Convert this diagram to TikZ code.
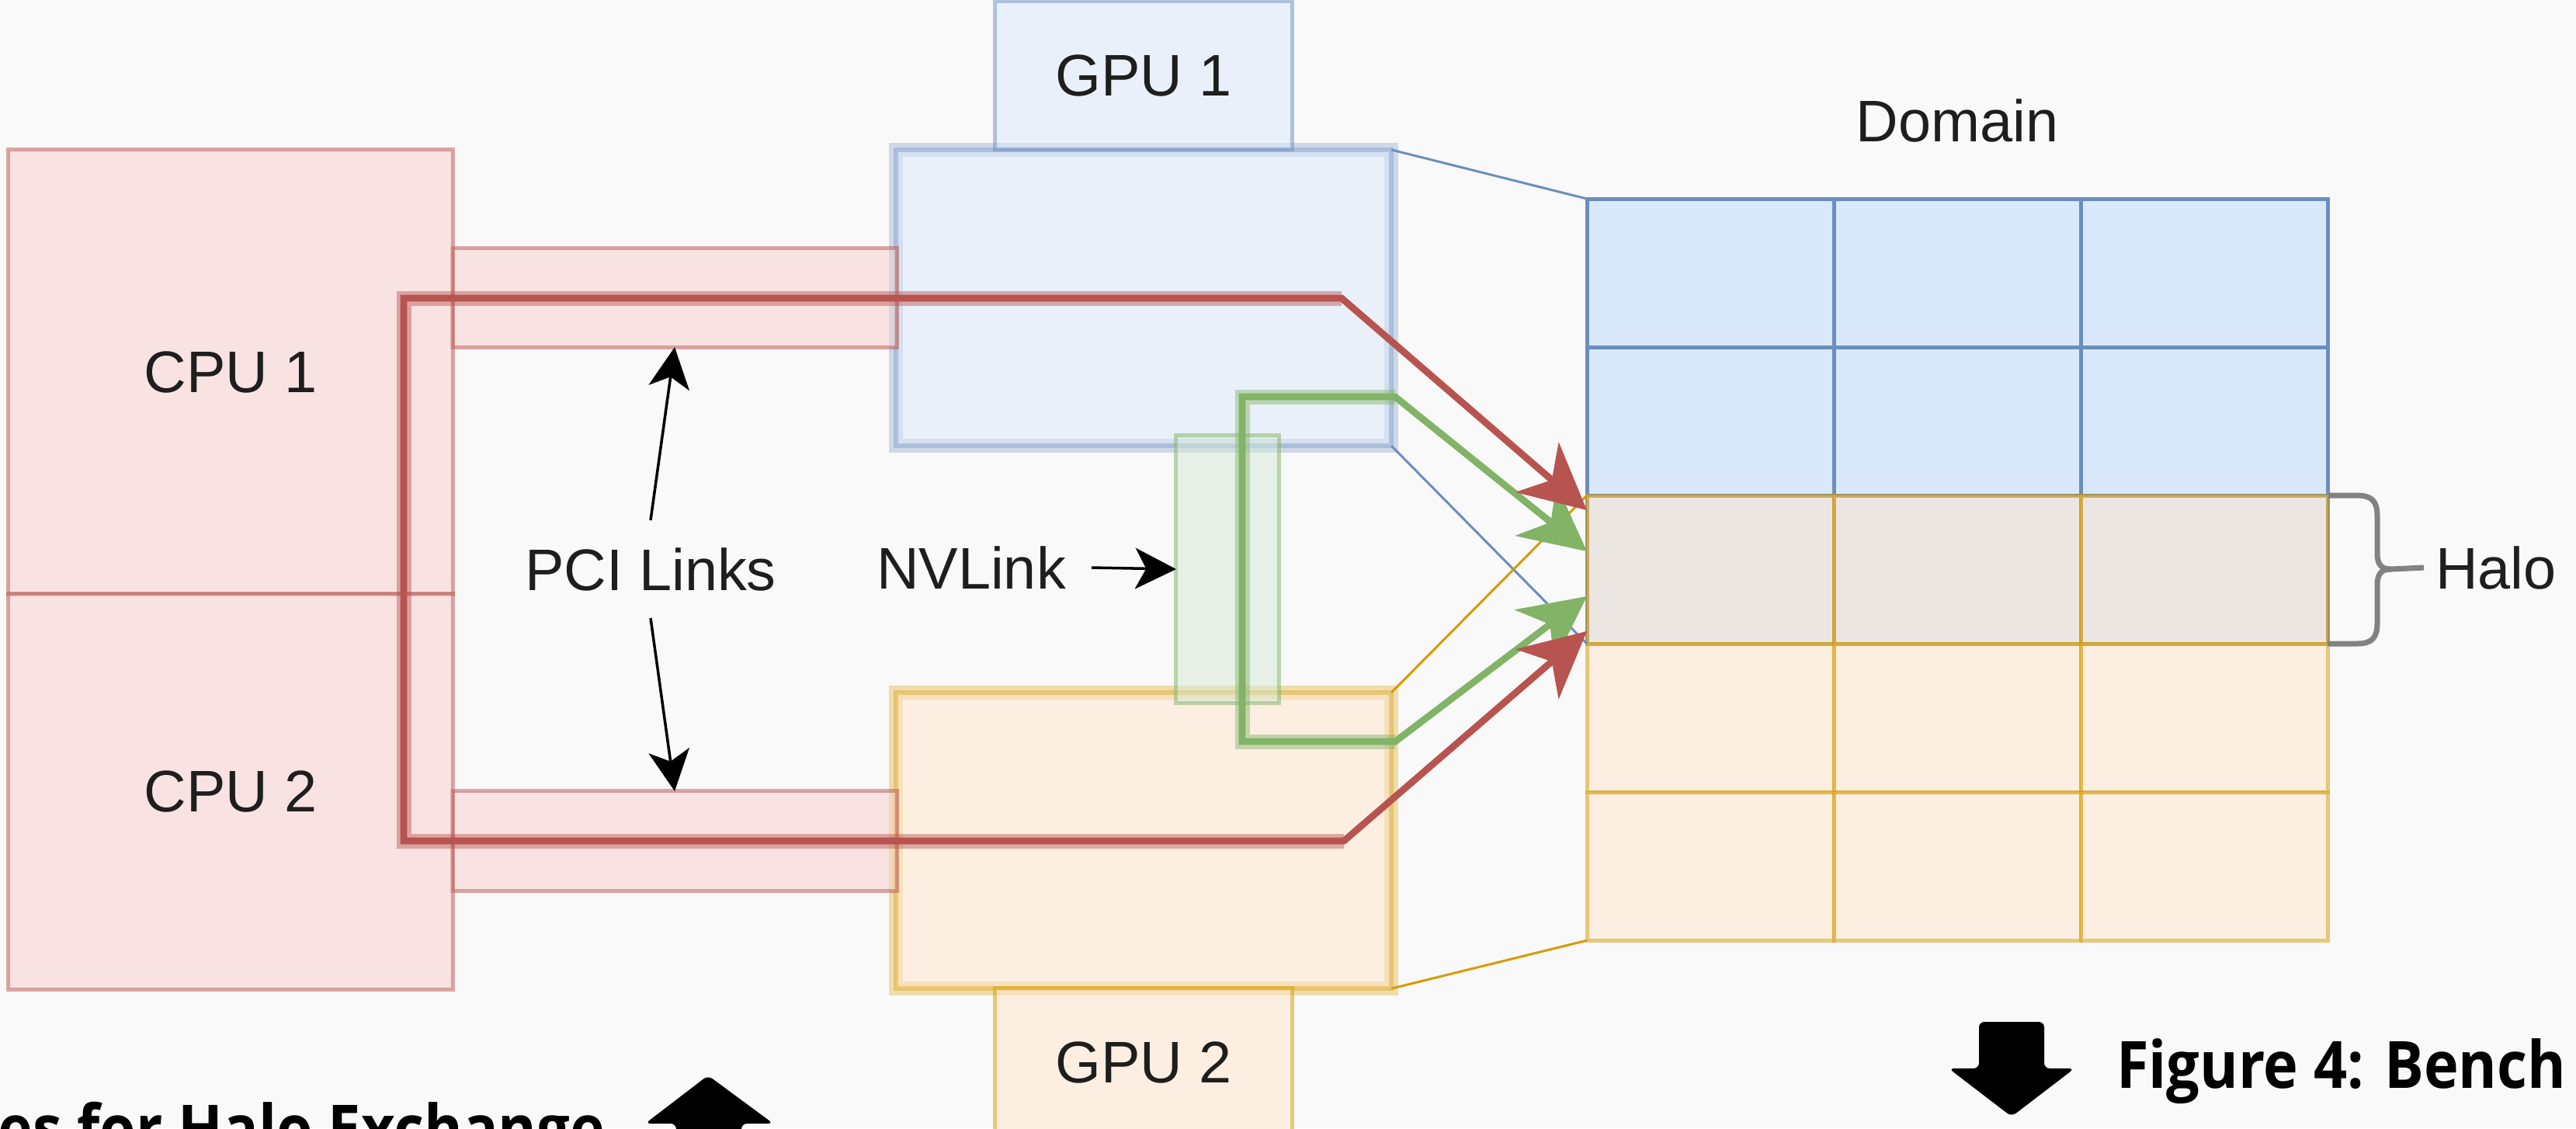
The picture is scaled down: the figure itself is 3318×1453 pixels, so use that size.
\documentclass[tikz,border=0pt]{standalone}
\usepackage{fontspec}
\setmainfont{Liberation Sans}
\newfontfamily\capfont{Open Sans}[FakeStretch=0.9]
\usetikzlibrary{arrows.meta,calc}
\definecolor{bg}{HTML}{F9F9F9}
\definecolor{redS}{HTML}{B85450}
\definecolor{redF}{HTML}{F8CECC}
\definecolor{bluS}{HTML}{6C8EBF}
\definecolor{bluF}{HTML}{DAE8FC}
\definecolor{orS}{HTML}{D79B00}
\definecolor{orF}{HTML}{FFE6CC}
\definecolor{grS}{HTML}{82B366}
\definecolor{grF}{HTML}{D5E8D4}
\definecolor{txt}{HTML}{1E1E1E}
\definecolor{brc}{HTML}{828282}
\begin{document}
\begin{tikzpicture}[x=0.01cm,y=-0.01cm,
  box/.style={rectangle, inner sep=0pt, outer sep=0pt, line width=1.42pt,
    text=txt, text opacity=1, font=\fontsize{21.5}{24}\selectfont},
  cpubox/.style={box, fill=redF, fill opacity=0.5, draw=redS, draw opacity=0.5},
  gpulbl1/.style={box, fill=bluF, fill opacity=0.5, draw=bluS, draw opacity=0.5},
  gpulbl2/.style={box, fill=orF, fill opacity=0.5, draw=orS, draw opacity=0.5},
  gpubig1/.style={box, fill=bluF, fill opacity=0.5, draw=bluS, draw opacity=0.37, line width=1.7pt,
    preaction={draw=bluS, draw opacity=0.3, line width=5.1pt}},
  gpubig2/.style={box, fill=orF, fill opacity=0.5, draw=orS, draw opacity=0.37, line width=1.7pt,
    preaction={draw=orS, draw opacity=0.3, line width=5.1pt}},
  nvbox/.style={box, fill=grF, fill opacity=0.5, draw=grS, draw opacity=0.5},
  bcell/.style={box, fill=bluF, draw=bluS, minimum width=3.18cm, minimum height=1.91cm, anchor=north west},
  ocell/.style={box, fill=orF, fill opacity=0.5, draw=orS, draw opacity=0.5, minimum width=3.18cm, minimum height=1.91cm, anchor=north west},
  lbl/.style={inner sep=0pt, outer sep=0pt, text=txt, font=\fontsize{21.5}{24}\selectfont},
  thinblue/.style={draw=bluS, line width=0.85pt},
  thinor/.style={draw=orS, line width=0.85pt},
  blk/.style={draw=black, line width=1pt, -{Stealth[length=15pt, width=15pt, inset=4pt]}},
  flowhead/.style={{Stealth[length=24pt, width=24pt, inset=7pt]}-{Stealth[length=24pt, width=24pt, inset=7pt]}},
  redflow/.style={draw=redS, line width=2.5pt, line join=miter, flowhead},
  redhalo/.style={draw=redS, draw opacity=0.45, line width=5.4pt, line join=miter},
  greenflow/.style={draw=grS, line width=2.5pt, line join=miter, flowhead},
  greenhalo/.style={draw=grS, draw opacity=0.45, line width=5.4pt, line join=miter},
  bracestyle/.style={draw=brc, line width=2pt},
  captext/.style={inner sep=0pt, outer sep=0pt, text=black, font=\capfont\bfseries\fontsize{23.9}{28}\selectfont},
]
\useasboundingbox (0,0) rectangle (3318,1453);
\clip (0,0) rectangle (3318,1453);
\fill[bg] (0,0) rectangle (3318,1453);

% GPU boxes
\node[gpubig1, minimum width=6.38cm, minimum height=3.81cm] (gpu1) at (1473,383.5) {};
\node[gpubig2, minimum width=6.38cm, minimum height=3.81cm] (gpu2) at (1473,1082.5) {};
\node[gpulbl1, minimum width=3.82cm, minimum height=1.90cm] (gpu1l) at (1473,97) {GPU 1};
\node[gpulbl2, minimum width=3.82cm, minimum height=1.90cm] (gpu2l) at (1473,1368) {GPU 2};

% PCI bars
\node[cpubox, minimum width=5.72cm, minimum height=1.27cm] (pci1) at (869,383.5) {};
\node[cpubox, minimum width=5.72cm, minimum height=1.28cm] (pci2) at (869,1083) {};

% CPU boxes
\node[cpubox, minimum width=5.72cm, minimum height=5.72cm] (cpu1) at (297,479) {CPU 1};
\node[cpubox, minimum width=5.72cm, minimum height=5.09cm] (cpu2) at (297,1019.5) {CPU 2};

% NVLink
\node[nvbox, minimum width=1.32cm, minimum height=3.44cm] (nvl) at (1581,733) {};

% Domain grid
\foreach \r in {0,1,2}{
  \foreach \c in {0,1,2}{
    \node[bcell] (b\r\c) at ({2044+318*\c},{256+191*\r}) {};
  }
}
\foreach \r in {2,3,4}{
  \foreach \c in {0,1,2}{
    \node[ocell] (o\r\c) at ({2044+318*\c},{256+191*\r}) {};
  }
}

% zoom lines
\draw[thinblue] (gpu1.north east) -- (b00.north west);
\draw[thinblue] (gpu1.south east) -- (b20.south west);
\draw[thinor] (gpu2.north east) -- (o20.north west);
\draw[thinor] (gpu2.south east) -- (o40.south west);

% labels
\node[lbl] (dom) at (2521,155) {Domain};
\node[lbl, anchor=west, inner xsep=0.15cm] (halo) at (3122,731) {Halo};
\node[lbl, minimum height=1.26cm] (pcit) at (838,733) {PCI Links};
\node[lbl, minimum width=3.1cm] (nvt) at (1251,731) {NVLink};

% brace
\draw[bracestyle] (o22.north east) -- (3035,638) .. controls (3055,638) and (3062,645) .. (3062,665)
  -- (3062,712) .. controls (3062,726) and (3066,733) .. (3080,733) -- (halo.west);
\draw[bracestyle] (3080,733) .. controls (3066,733) and (3062,740) .. (3062,754)
  -- (3062,802) .. controls (3062,822) and (3055,829) .. (3035,829) -- (o22.south east);

% black arrows
\draw[blk] (pcit.north) -- (pci1.south);
\draw[blk] (pcit.south) -- (pci2.north);
\draw[blk] (nvt.east) -- (nvl.west);

% flow coordinates
\coordinate (rt) at ($(o20.north west)!0.10!(o20.south west)$);
\coordinate (rb) at ($(o20.north west)!0.915!(o20.south west)$);
\coordinate (gt) at ($(o20.north west)!0.377!(o20.south west)$);
\coordinate (gb) at ($(o20.north west)!0.68!(o20.south west)$);
\coordinate (rc1) at (1728,384);
\coordinate (rc2) at (520,384);
\coordinate (rc3) at (520,1083);
\coordinate (rc4) at (1731,1083);
\coordinate (gc1) at (1797,511);
\coordinate (gc2) at (1600,511);
\coordinate (gc3) at (1600,955);
\coordinate (gc4) at (1797,955);

\draw[greenhalo] (gc1) -- (gc2) -- (gc3) -- (gc4);
\draw[greenflow] (gt) -- (gc1) -- (gc2) -- (gc3) -- (gc4) -- (gb);
\draw[redhalo] (rc1) -- (rc2) -- (rc3) -- (rc4);
\draw[redflow] (rt) -- (rc1) -- (rc2) -- (rc3) -- (rc4) -- (rb);

% captions and block arrows
\node[captext, anchor=base east] (capL) at (779,1483) {es for Halo Exchange};
\node[captext, anchor=base west] (capR) at (2726,1401) {Figure 4: Bench};
\fill[black, rounded corners=2pt] (912,1385) -- (996,1447) -- (955,1447) -- (955,1475) -- (871,1475) -- (871,1447) -- (831,1447) -- cycle;
\fill[black, rounded corners=2pt] (2549,1316) -- (2633,1316) -- (2633,1376) -- (2672,1376) -- (2591,1438) -- (2510,1376) -- (2549,1376) -- cycle;
\end{tikzpicture}
\end{document}
